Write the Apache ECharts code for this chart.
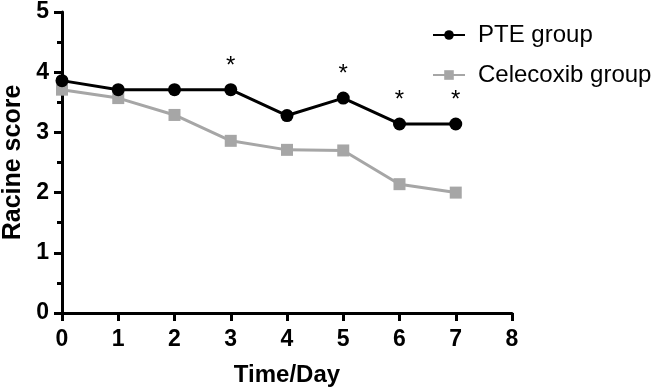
<!DOCTYPE html>
<html>
<head>
<meta charset="utf-8">
<script src="https://cdn.jsdelivr.net/npm/echarts@6/dist/echarts.min.js"></script>
<style>
html, body { margin: 0; padding: 0; background: #fff; }
#chart { width: 663px; height: 390px; }
</style>
</head>
<body>
<div id="chart"></div>
<script>
var days = [0, 1, 2, 3, 4, 5, 6, 7];
var pteScores = [3.86, 3.71, 3.71, 3.71, 3.28, 3.57, 3.14, 3.14];
var celecoxibScores = [3.71, 3.57, 3.29, 2.86, 2.71, 2.70, 2.14, 2.00];
var sigDays = [3, 5, 6, 7]; // days marked with *

var chart = echarts.init(document.getElementById('chart'));

function toPoints(values, marked) {
	return days.map(function(d, i) {
		var item = { value: [d, values[i]] };
		if (marked && sigDays.indexOf(d) >= 0) {
			item.label = { show: true };
		}
		return item;
	});
}

var axisFont = { fontFamily: 'Liberation Sans', fontWeight: 'bold', fontSize: 23, color: '#000' };

var option = {
	animation: false,
	backgroundColor: '#fff',
	grid: { left: 62, right: 151, top: 12, bottom: 77, outerBoundsMode: 'none' },
	legend: {
		orient: 'vertical',
		left: 427,
		top: 18,
		itemGap: 16,
		itemWidth: 32,
		itemHeight: 12,
		textStyle: { fontFamily: 'Liberation Sans', fontSize: 24, color: '#000', padding: [0, 0, 0, 8] },
		data: ['PTE group', 'Celecoxib group']
	},
	xAxis: {
		type: 'value',
		min: 0, max: 8, interval: 1,
		name: 'Time/Day',
		nameLocation: 'middle',
		nameGap: 50,
		nameTextStyle: { fontFamily: 'Liberation Sans', fontWeight: 'bold', fontSize: 24, color: '#000' },
		axisLine: { show: true, lineStyle: { color: '#000', width: 3 } },
		axisTick: { show: true, length: 8, lineStyle: { color: '#000', width: 3 } },
		axisLabel: Object.assign({ margin: 15 }, axisFont),
		splitLine: { show: false }
	},
	yAxis: {
		type: 'value',
		min: 0, max: 5, interval: 1,
		name: 'Racine score',
		nameLocation: 'middle',
		nameGap: 30,
		nameTextStyle: { fontFamily: 'Liberation Sans', fontWeight: 'bold', fontSize: 25, color: '#000' },
		axisLine: { show: true, lineStyle: { color: '#000', width: 3 } },
		axisTick: { show: true, length: 8, lineStyle: { color: '#000', width: 3 } },
		minorTick: { show: true, splitNumber: 2, length: 5, lineStyle: { color: '#000', width: 3 } },
		axisLabel: Object.assign({ margin: 13 }, axisFont),
		splitLine: { show: false }
	},
	series: [
		{
			name: 'Celecoxib group',
			type: 'line',
			symbol: 'rect',
			symbolSize: 12,
			z: 2,
			itemStyle: { color: '#a6a6a6' },
			lineStyle: { color: '#a6a6a6', width: 3 },
			data: toPoints(celecoxibScores, false)
		},
		{
			name: 'PTE group',
			type: 'line',
			symbol: 'circle',
			symbolSize: 13,
			z: 3,
			itemStyle: { color: '#000' },
			lineStyle: { color: '#000', width: 3 },
			label: {
				show: false,
				position: 'top',
				distance: 5,
				formatter: '*',
				fontFamily: 'Liberation Sans',
				fontSize: 24,
				color: '#000'
			},
			data: toPoints(pteScores, true)
		}
	]
};
chart.setOption(option);
</script>
</body>
</html>
